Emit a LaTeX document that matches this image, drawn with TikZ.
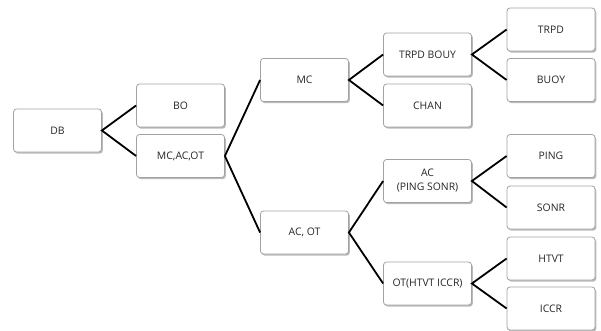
\documentclass[tikz,border=0pt]{standalone}
\usepackage{fontspec}
\setmainfont{Open Sans}
\usetikzlibrary{shadows}
\definecolor{boxline}{HTML}{A2A2A2}
\definecolor{boxtext}{HTML}{262626}
\begin{document}
\begin{tikzpicture}[x=1pt,y=-1pt,
  box/.style={draw=boxline, line width=0.8pt, fill=white, rounded corners=3pt,
    minimum width=88pt, minimum height=43pt, inner sep=1pt, align=center,
    text=boxtext, font=\fontsize{10.4}{14}\selectfont,
    drop shadow={shadow xshift=1.3pt, shadow yshift=-1.6pt, fill=black!45, opacity=0.6}},
  link/.style={draw=black, line width=1.8pt}]
\useasboundingbox (0,0) rectangle (601,331);

% level 0
\node[box] (db) at (57.5,130.5) {DB};
% level 1
\node[box] (bo) at (180.5,105.5) {BO};
\node[box] (mao) at (180.5,156) {MC,AC,OT};
% level 2
\node[box] (mc) at (304.5,80) {MC};
\node[box] (acot) at (304.5,232.5) {AC, OT};
% level 3
\node[box] (tb) at (427.5,54.5) {TRPD BOUY};
\node[box] (chan) at (427.5,105.5) {CHAN};
\node[box] (acps) at (427.5,181) {AC\\(PING SONR)};
\node[box] (othi) at (427.5,283.5) {OT(HTVT ICCR)};
% level 4
\node[box] (trpd) at (551,29.5) {TRPD};
\node[box] (buoy) at (551,80) {BUOY};
\node[box] (ping) at (551,156) {PING};
\node[box] (sonr) at (551,207.5) {SONR};
\node[box] (htvt) at (551,258.5) {HTVT};
\node[box] (iccr) at (551,308.5) {ICCR};

% forks
\draw[link] (bo.west) -- (db.east) -- (mao.west);
\draw[link] (mc.west) -- (mao.east) -- (acot.west);
\draw[link] (tb.west) -- (mc.east) -- (chan.west);
\draw[link] (acps.west) -- (acot.east) -- (othi.west);
\draw[link] (trpd.west) -- (tb.east) -- (buoy.west);
\draw[link] (ping.west) -- (acps.east) -- (sonr.west);
\draw[link] (htvt.west) -- (othi.east) -- (iccr.west);
\end{tikzpicture}
\end{document}
